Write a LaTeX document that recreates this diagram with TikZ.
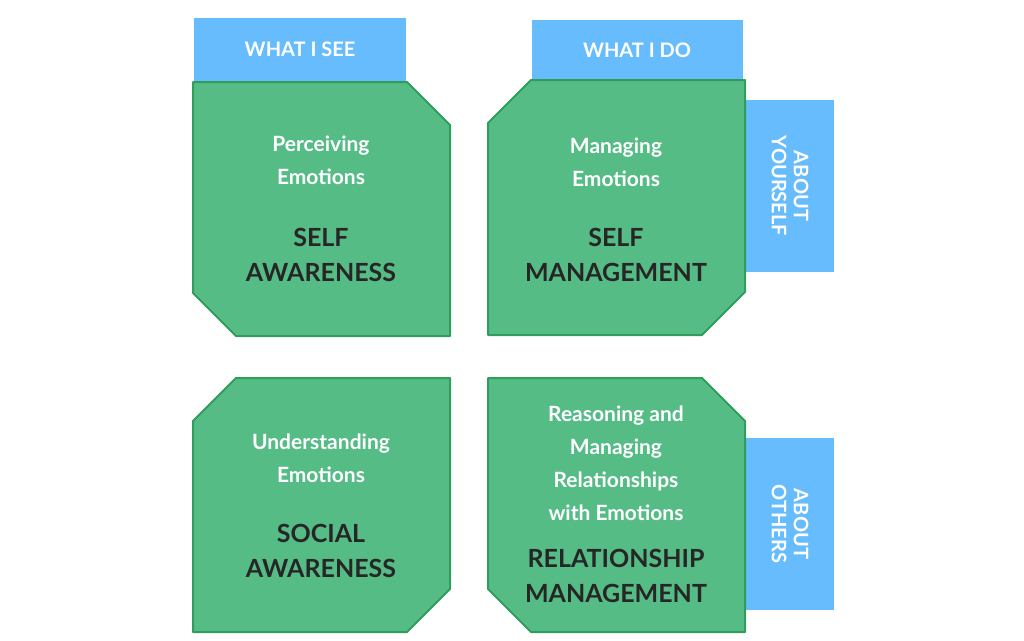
\documentclass[tikz,border=0pt]{standalone}
\usepackage{fontspec}
\setmainfont{Lato}
\begin{document}
\begin{tikzpicture}[x=1pt,y=-1pt,
  quad/.style={fill=qgreen,draw=qedge,line width=2pt,line join=round},
  tab/.style={fill=qblue},
  wt/.style={text=white,font=\bfseries\fontsize{21}{33}\selectfont,align=center},
  bt/.style={text=black!85,font=\bfseries\fontsize{25}{35}\selectfont,align=center},
  tt/.style={text=white,font=\bfseries\fontsize{20}{22}\selectfont,align=center}]
\definecolor{qgreen}{HTML}{55BC86}
\definecolor{qedge}{HTML}{2F9E5C}
\definecolor{qblue}{HTML}{66BCFC}
\useasboundingbox (0,0) rectangle (1024,640);
% tabs
\fill[tab] (194,18) rectangle (406,81);
\node[tt] (see) at (300,49) {WHAT I SEE};
\fill[tab] (532,20) rectangle (743,81);
\node[tt] (do) at (637,50) {WHAT I DO};
\fill[tab] (745,100) rectangle (834,272);
\node[tt,rotate=-90] (ys) at (790,186) {ABOUT\\YOURSELF};
\fill[tab] (745,438) rectangle (834,610);
\node[tt,rotate=-90] (ot) at (790,524) {ABOUT\\OTHERS};
% boxes
\draw[quad] (193,82) -- (407,82) -- (450,125) -- (450,336) -- (236,336) -- (193,293) -- cycle;
\draw[quad] (531,80) -- (745,80) -- (745,292) -- (702,335) -- (488,335) -- (488,123) -- cycle;
\draw[quad] (236,378) -- (450,378) -- (450,589) -- (407,632) -- (193,632) -- (193,421) -- cycle;
\draw[quad] (488,378) -- (702,378) -- (745,421) -- (745,632) -- (531,632) -- (488,589) -- cycle;
% texts
\node[wt] (pe) at (321,160) {Perceiving\\Emotions};
\node[bt] (sa) at (321,255) {SELF\\AWARENESS};
\node[wt] (me) at (616,162) {Managing\\Emotions};
\node[bt] (sm) at (616,255) {SELF\\MANAGEMENT};
\node[wt] (ue) at (321,458) {Understanding\\Emotions};
\node[bt] (soa) at (321,551) {SOCIAL\\AWARENESS};
\node[wt] (rm) at (616,463) {Reasoning and\\Managing\\Relationships\\with Emotions};
\node[bt] (rma) at (616,576) {RELATIONSHIP\\MANAGEMENT};
\end{tikzpicture}
\end{document}
